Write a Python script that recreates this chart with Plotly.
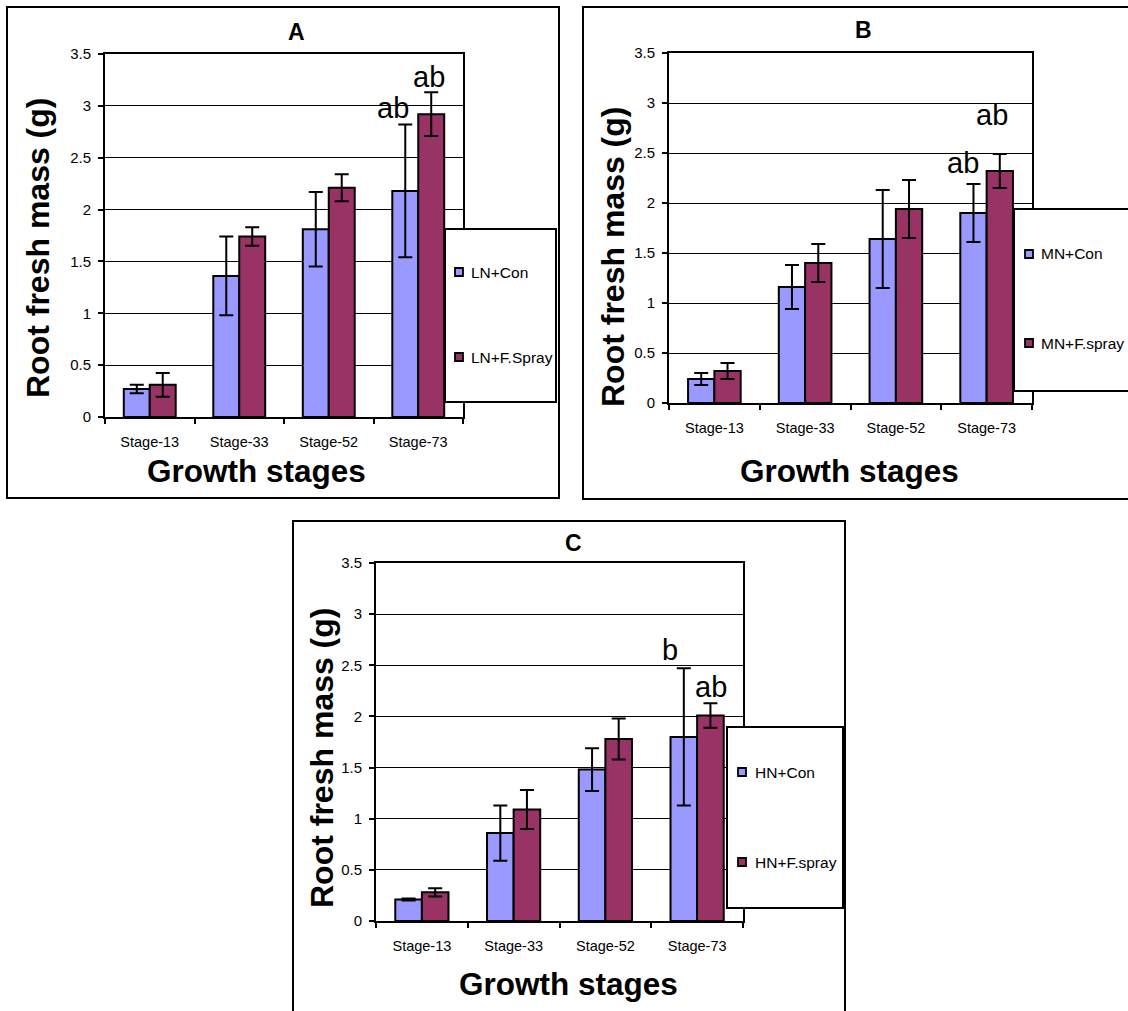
import plotly.graph_objects as go

W, H = 1128, 1011
FONT = "Liberation Sans, Arial, sans-serif"
CON_COLOR = "#9999FF"
SPRAY_COLOR = "#993366"

# ---- data -------------------------------------------------------------
stages = ["Stage-13", "Stage-33", "Stage-52", "Stage-73"]

ln_con = [0.27, 1.36, 1.81, 2.18]
ln_con_err = [0.04, 0.38, 0.36, 0.64]
ln_spray = [0.31, 1.74, 2.21, 2.92]
ln_spray_err = [0.115, 0.09, 0.13, 0.21]

mn_con = [0.24, 1.16, 1.64, 1.90]
mn_con_err = [0.06, 0.22, 0.49, 0.29]
mn_spray = [0.32, 1.40, 1.94, 2.32]
mn_spray_err = [0.08, 0.19, 0.29, 0.17]

hn_con = [0.21, 0.86, 1.48, 1.80]
hn_con_err = [0.01, 0.27, 0.21, 0.67]
hn_spray = [0.28, 1.09, 1.78, 2.01]
hn_spray_err = [0.04, 0.19, 0.20, 0.12]

panel_titles = ["A", "B", "C"]
con_names = ["LN+Con", "MN+Con", "HN+Con"]
spray_names = ["LN+F.Spray", "MN+F.spray", "HN+F.spray"]
y_title = "Root fresh mass (g)"
x_title = "Growth stages"


def px(x):
    return x / W


def py(y):
    return 1 - y / H


# Layout geometry of each panel (pixels)
panels = [
    dict(plot=(105, 54, 463, 417), frame=(7, 7, 559, 498), legend=(445, 229, 556, 402),
         leg_mark_x=459, leg_text_x=469, leg_y=(272, 357),
         title=(296, 32), ytitle=(38, 248), xtitle=(256, 471),
         con=ln_con, con_err=ln_con_err, spray=ln_spray, spray_err=ln_spray_err,
         letters=[("ab", -25, 2.98), ("ab", 11, 3.28)]),
    dict(plot=(669, 53, 1032, 403), frame=(583, 7, 1140, 499), legend=(1014, 209, 1140, 391),
         leg_mark_x=1029, leg_text_x=1039, leg_y=(254, 343),
         title=(863, 30), ytitle=(613, 257), xtitle=(849, 471),
         con=mn_con, con_err=mn_con_err, spray=mn_spray, spray_err=mn_spray_err,
         letters=[("ab", -24, 2.40), ("ab", 5, 2.88)]),
    dict(plot=(376, 563, 743, 921), frame=(293, 521, 845, 1030), legend=(727, 727, 843, 908),
         leg_mark_x=742, leg_text_x=753, leg_y=(772, 862),
         title=(573, 543), ytitle=(322, 758), xtitle=(568, 984),
         con=hn_con, con_err=hn_con_err, spray=hn_spray, spray_err=hn_spray_err,
         letters=[("b", -27, 2.65), ("ab", 14, 2.29)]),
]

fig = go.Figure()
shapes = []
annotations = []
layout_axes = {}

for i, p in enumerate(panels):
    n = "" if i == 0 else str(i + 1)
    xa, ya = "x" + n, "y" + n
    x0, y0, x1, y1 = p["plot"]

    for name, vals, errs, color in [
        (con_names[i], p["con"], p["con_err"], CON_COLOR),
        (spray_names[i], p["spray"], p["spray_err"], SPRAY_COLOR),
    ]:
        fig.add_trace(go.Bar(
            x=stages, y=vals, name=name, xaxis=xa, yaxis=ya,
            marker=dict(color=color, line=dict(color="black", width=2)),
            error_y=dict(type="data", array=errs, visible=True,
                         color="black", thickness=2, width=7),
            showlegend=False,
        ))

    layout_axes["xaxis" + n] = dict(
        domain=[px(x0), px(x1)], anchor=ya, type="category",
        categoryorder="array", categoryarray=stages, automargin=False,
        showline=True, linecolor="black", linewidth=2, mirror=True,
        ticks="outside", tickson="boundaries", ticklen=5, tickwidth=2, tickcolor="black",
        tickfont=dict(family=FONT, size=14.5, color="black"),
        ticklabelstandoff=11, showgrid=False, zeroline=False, fixedrange=True,
    )
    layout_axes["yaxis" + n] = dict(
        domain=[py(y1), py(y0)], anchor=xa, range=[0, 3.5], dtick=0.5, automargin=False,
        showline=True, linecolor="black", linewidth=2, mirror=True,
        ticks="outside", ticklen=5, tickwidth=2, tickcolor="black",
        tickfont=dict(family=FONT, size=15, color="black"),
        ticklabelstandoff=4,
        showgrid=True, gridcolor="black", gridwidth=1, zeroline=False, fixedrange=True,
    )

    # panel frame
    fx0, fy0, fx1, fy1 = p["frame"]
    shapes.append(dict(type="rect", xref="paper", yref="paper",
                       x0=px(fx0), y0=py(fy1), x1=px(fx1), y1=py(fy0),
                       line=dict(color="black", width=2), layer="below"))

    # legend box with swatches
    lx0, ly0, lx1, ly1 = p["legend"]
    shapes.append(dict(type="rect", xref="paper", yref="paper",
                       x0=px(lx0), y0=py(ly1), x1=px(lx1), y1=py(ly0),
                       fillcolor="white", line=dict(color="black", width=2), layer="above"))
    for name, color, yy in [(con_names[i], CON_COLOR, p["leg_y"][0]),
                            (spray_names[i], SPRAY_COLOR, p["leg_y"][1])]:
        mx = p["leg_mark_x"]
        shapes.append(dict(type="rect", xref="paper", yref="paper",
                           x0=px(mx - 4), y0=py(yy + 4), x1=px(mx + 4), y1=py(yy - 4),
                           fillcolor=color, line=dict(color="black", width=1.8), layer="above"))
        annotations.append(dict(xref="paper", yref="paper", x=px(p["leg_text_x"]), y=py(yy),
                                text=name, showarrow=False, xanchor="left", yanchor="middle",
                                font=dict(family=FONT, size=15.5, color="black")))

    # panel title, axis titles
    tx, ty = p["title"]
    annotations.append(dict(xref="paper", yref="paper", x=px(tx), y=py(ty), text="<b>%s</b>" % panel_titles[i],
                            showarrow=False, xanchor="center", yanchor="middle",
                            font=dict(family=FONT, size=23, color="black")))
    yx, yy = p["ytitle"]
    annotations.append(dict(xref="paper", yref="paper", x=px(yx), y=py(yy), text="<b>%s</b>" % y_title,
                            textangle=-90, showarrow=False, xanchor="center", yanchor="middle",
                            font=dict(family=FONT, size=32, color="black")))
    gx, gy = p["xtitle"]
    annotations.append(dict(xref="paper", yref="paper", x=px(gx), y=py(gy), text="<b>%s</b>" % x_title,
                            showarrow=False, xanchor="center", yanchor="middle",
                            font=dict(family=FONT, size=31.5, color="black")))

    # significance letters above Stage-73 bars
    for txt, shift, yv in p["letters"]:
        annotations.append(dict(xref=xa, yref=ya, x="Stage-73", y=yv, xshift=shift, text=txt,
                                showarrow=False, xanchor="center", yanchor="middle",
                                font=dict(family=FONT, size=29, color="black")))

fig.update_layout(
    template="none",
    width=W, height=H, margin=dict(l=0, r=0, t=0, b=0, pad=0, autoexpand=False),
    paper_bgcolor="white", plot_bgcolor="white",
    barmode="group", bargap=0.42, bargroupgap=0,
    showlegend=False, shapes=shapes, annotations=annotations,
    **layout_axes,
)

fig.write_html("out.html")
